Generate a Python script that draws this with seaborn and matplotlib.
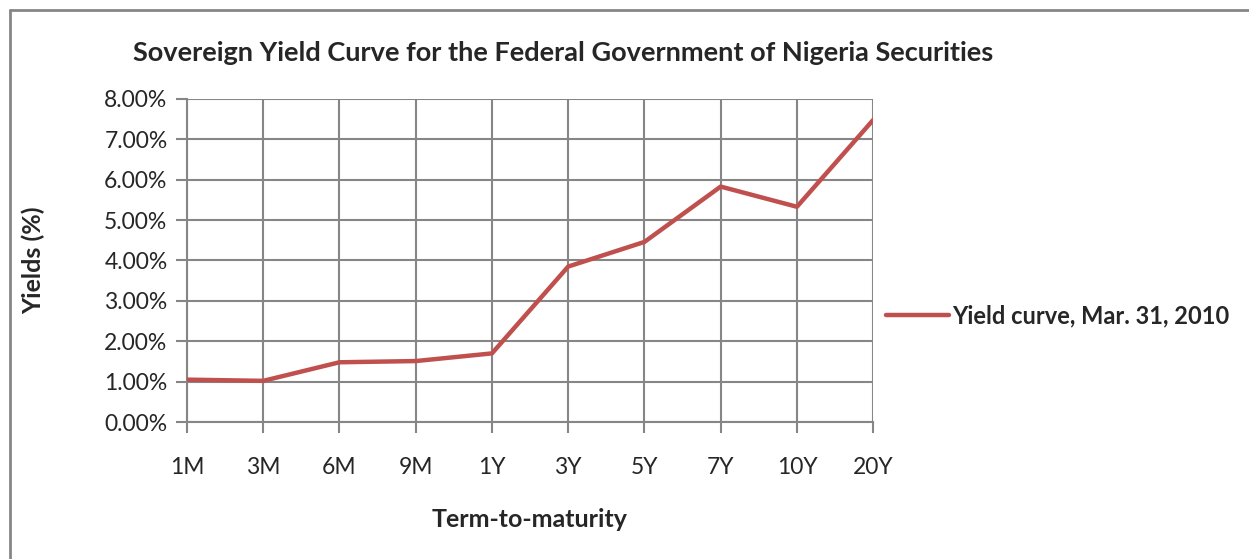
"""Sovereign yield curve, FGN securities, 31 March 2010."""

import matplotlib.pyplot as plt
import matplotlib.ticker as mtick
from matplotlib.lines import Line2D
import pandas as pd
import seaborn as sns

# ─── Data ───────────────────────────────────────────────────────────────────
TENORS = ["1M", "3M", "6M", "9M", "1Y", "3Y", "5Y", "7Y", "10Y", "20Y"]
YIELDS = [1.05, 1.02, 1.48, 1.51, 1.70, 3.85, 4.46, 5.83, 5.33, 7.48]
SERIES_NAME = "Yield curve, Mar. 31, 2010"
Y_TICKS = [0, 1, 2, 3, 4, 5, 6, 7, 8]

# ─── Style ──────────────────────────────────────────────────────────────────
LINE_COLOR = "#C0504D"
GRID_COLOR = "#868686"
sns.set_style("white")
plt.rcParams["font.family"] = ["Lato", "DejaVu Sans"]

df = pd.DataFrame({"tenor": TENORS, "yield": YIELDS})

fig = plt.figure(figsize=(12.49, 5.59), dpi=100)
ax = fig.add_axes([0.1497, 0.245, 0.5494, 0.578])

sns.lineplot(data=df, x="tenor", y="yield", ax=ax, color=LINE_COLOR,
             linewidth=3.2, sort=False, label=SERIES_NAME, zorder=3)

ax.set_xlim(0, len(TENORS) - 1)
ax.set_ylim(0, 8)
ax.set_yticks(Y_TICKS)
ax.yaxis.set_major_formatter(mtick.PercentFormatter(decimals=2))
ax.grid(True, color=GRID_COLOR, linewidth=1.5, zorder=0)
for side in ["top", "right"]:
    ax.spines[side].set_visible(False)
for side in ["left", "bottom"]:
    ax.spines[side].set_color(GRID_COLOR)
    ax.spines[side].set_linewidth(1.5)
ax.tick_params(axis="both", bottom=True, left=True, length=8, width=1.5,
               color=GRID_COLOR, labelsize=16.5, direction="out")
ax.tick_params(axis="x", pad=17)
ax.tick_params(axis="y", pad=6)

ax.set_xlabel("Term-to-maturity", fontsize=18, fontweight="bold")
ax.set_ylabel("Yields (%)", fontsize=18, fontweight="bold")
ax.xaxis.set_label_coords(0.5, -0.265)
ax.yaxis.set_label_coords(-0.207, 0.5)

fig.text(0.451, 0.905, "Sovereign Yield Curve for the Federal Government of Nigeria Securities",
         ha="center", va="center", fontsize=19.5, fontweight="bold")

ax.legend(loc="center left", bbox_to_anchor=(0.692, 0.435),
          bbox_transform=fig.transFigure, frameon=False,
          prop={"size": 17, "weight": "bold"},
          handlelength=2.7, handletextpad=0.1)

# Chart-area border (top and left edges visible in the crop)
fig.add_artist(Line2D([10 / 1249, 10 / 1249], [0, 1 - 10 / 559],
                      transform=fig.transFigure, color=GRID_COLOR, linewidth=2))
fig.add_artist(Line2D([10 / 1249, 1], [1 - 10 / 559, 1 - 10 / 559],
                      transform=fig.transFigure, color=GRID_COLOR, linewidth=2))

fig.savefig("out.png", dpi=100)
